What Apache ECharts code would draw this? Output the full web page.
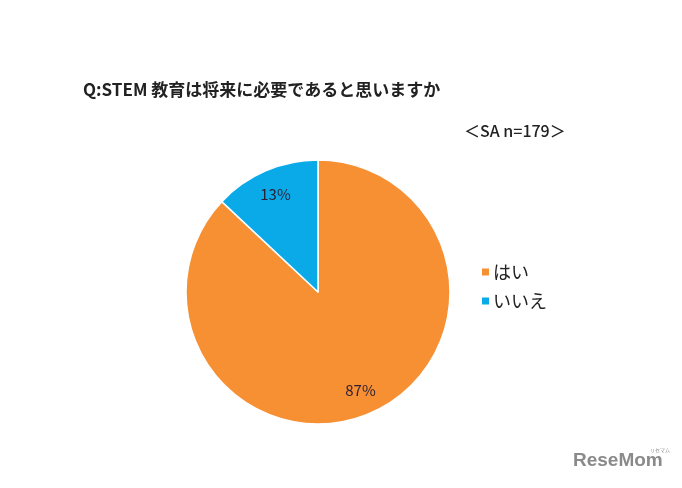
<!DOCTYPE html>
<html><head><meta charset="utf-8">
<script src="https://cdn.jsdelivr.net/npm/echarts@6/dist/echarts.min.js"></script>
<style>html,body{margin:0;padding:0;background:#fff}#c{width:682px;height:488px}</style>
</head><body><div id="c"></div>
<script>
const titleText = 'Q:STEM 教育は将来に必要であると思いますか';
const sampleText = '＜SA n=179＞';
const categories = ['はい', 'いいえ'];
const values = [87, 13];
const colors = ['#F78F33', '#0AAAE9'];

const chart = echarts.init(document.getElementById('c'));
const ff = '"Noto Sans CJK JP", "Noto Sans", sans-serif';
const pieData = categories.map((n, i) => ({name: n, value: values[i]}));
chart.setOption({
  animation: false,
  backgroundColor: '#fff',
  color: colors,
  title: [
    {text: titleText, left: 78, top: 76, textStyle: {fontFamily: ff, fontSize: 17, fontWeight: 'bold', color: '#222'}},
    {text: sampleText, left: 459, top: 118, textStyle: {fontFamily: ff, fontSize: 16, fontWeight: 500, color: '#222'}}
  ],
  legend: {
    orient: 'vertical', left: 475, top: 258, itemWidth: 9, itemHeight: 9, itemGap: 11,
    icon: 'rect',
    textStyle: {fontFamily: ff, fontSize: 18, color: '#222', padding: [0,0,0,-2]},
    data: categories
  },
  series: [{
    type: 'pie', center: [318, 292], radius: 132, startAngle: 90, clockwise: true,
    itemStyle: {borderColor: '#fff', borderWidth: 1.5},
    label: {show: false},
    labelLine: {show: false},
    data: pieData
  }, {
    type: 'pie', center: [318, 292], radius: 208, startAngle: 90, clockwise: true,
    silent: true, legendHoverLink: false,
    itemStyle: {opacity: 0},
    label: {
      show: true, position: 'inner', formatter: '{c}%',
      fontFamily: ff, fontSize: 15, color: '#2a1f33', opacity: 1
    },
    labelLine: {show: false},
    data: pieData
  }],
  graphic: [
    {type: 'text', left: 573, top: 451, style: {text: 'ReseMom', fontFamily: '"Liberation Sans", sans-serif', fontSize: 19, fontWeight: 'bold', fill: '#8a8a8a'}},
    {type: 'text', left: 650, top: 448, style: {text: 'リセマム', fontFamily: ff, fontSize: 5, fill: '#8a8a8a'}}
  ]
});
</script></body></html>
